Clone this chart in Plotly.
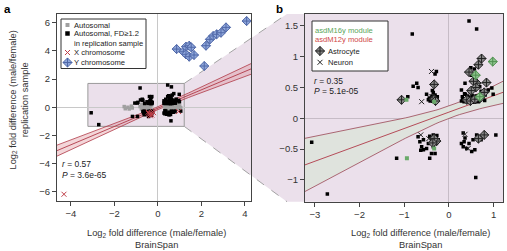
import numpy as np
import plotly.graph_objects as go

W, H = 507, 251

# ---------------- data ----------------
# Panel a: Y chromosome genes
ychr_x = [0.86, 1.17, 1.29, 1.44, 1.53, 1.29, 1.44, 1.66, 2.13, 2.21, 2.39, 2.54, 2.70, 2.90, 3.13, 4.08]
ychr_y = [4.13, 3.94, 4.30, 4.37, 4.26, 3.76, 3.59, 3.71, 2.93, 4.37, 4.82, 5.06, 5.18, 5.29, 5.67, 6.12]
# Panel a: X chromosome genes
xchr_x = [-4.32, -0.45, -0.38, -0.30, -0.35, -0.25, -0.42, -0.28, -0.20, 0.95]
xchr_y = [-6.17, -0.35, -0.50, -0.42, -0.60, -0.30, -0.45, -0.55, -0.38, -0.30]
# Panel a: autosomal genes (not FD>=1.2 in replication)
auto_x = [-0.82, -0.76, -0.71, -0.66, -0.62, -0.58, -0.55, -0.51, -0.48, -0.45, -0.42, -0.39, -0.36, -0.33,
          -0.30, -0.28, -0.68, -0.74, -0.52, -0.35, -1.55, -1.50, -1.38, -1.32, -1.22, -1.18,
          0.30, 0.34, 0.38, 0.42, 0.46, 0.50, 0.54, 0.58, 0.62, 0.66, 0.70, 0.74, 0.78, 0.82, 0.86,
          0.90, 0.95, 1.00, 1.05, 0.32, 0.48, 0.64, 0.80, 0.92]
auto_y = [0.05, -0.12, 0.15, -0.05, 0.20, -0.18, 0.08, -0.22, 0.12, -0.08, 0.22, 0.00, -0.15, 0.10,
          -0.22, 0.18, -0.24, 0.22, 0.00, -0.25, 0.05, -0.10, 0.00, -0.12, 0.08, -0.05,
          0.05, -0.15, 0.20, -0.05, 0.12, -0.22, 0.02, 0.18, -0.12, 0.08, -0.20, 0.15, -0.05, 0.22, -0.15,
          0.05, -0.10, 0.10, -0.02, 0.24, -0.25, 0.25, -0.24, 0.20]
# Autosomal genes with FD>=1.2 in replication sample (other, no cell-type annotation)
fd_x = [-0.82, 0.45, 0.62, -3.07, -2.72, -1.17, 1.05, 0.60,
        -0.80, -0.72, -0.69, -0.50, -0.92, -0.28, -0.31, -0.40, -0.36, -0.33, -0.30, -0.27, -0.38,
        -0.31, -0.35, -0.29, -0.44, -0.26, -0.42, -0.46, -0.37,
        -0.69, -0.65, -0.57, -0.61, -0.57, -0.50, -0.43, -0.39, -0.35, -0.31, -0.39, -0.28, -0.35,
        -0.31, -0.24, -0.43, -0.46, -0.63, -0.27, -0.33,
        0.28, 0.36, 0.51, 0.57, 0.49, 0.58, 0.69, 0.96, 0.99, 0.37, 0.47, 0.56, 0.72, 0.81, 0.88,
        0.28, 0.31, 0.34, 0.37, 0.40, 0.43, 0.46, 0.50, 0.53, 0.56, 0.60, 0.63, 0.66, 0.70, 0.30,
        0.42, 0.52, 0.62, 0.75, 0.80, 0.35, 0.48, 0.58,
        0.32, 0.36, 0.28, 0.32, 0.45, 0.51, 0.58, 0.54, 0.62, 0.72, 0.74, 0.40, 0.34, 0.69]
fd_y = [1.37, 1.58, 1.45, -0.39, -1.23, -0.65, -0.27, -0.96,
        0.52, 0.57, 0.50, 0.39, 0.35, 0.76, 0.72, 0.30, 0.28, 0.33, 0.29, 0.31, 0.36,
        0.38, 0.42, 0.27, 0.33, 0.35, 0.28, 0.30, 0.45,
        -0.30, -0.38, -0.35, -0.46, -0.51, -0.49, -0.65, -0.57, -0.27, -0.32, -0.38, -0.41, -0.46,
        -0.57, -0.35, -0.29, -0.41, -0.52, -0.28, -0.37,
        0.46, 0.57, 0.70, 0.80, 0.82, 0.62, 0.51, 0.49, 0.39, 0.39, 0.43, 0.47, 0.44, 0.38, 0.46,
        0.28, 0.31, 0.27, 0.30, 0.33, 0.28, 0.31, 0.27, 0.30, 0.34, 0.28, 0.31, 0.27, 0.30, 0.35,
        0.36, 0.37, 0.36, 0.33, 0.29, 0.40, 0.34, 0.26,
        -0.24, -0.32, -0.41, -0.46, -0.41, -0.54, -0.51, -0.35, -0.27, -0.35, -0.30, -0.49, -0.38, -0.32]
# Astrocyte markers
astro_x = [-1.06, -0.33, -0.33, -0.30, 0.73, 0.66, 0.45, 0.62, 0.84, 0.79, 0.55, 0.60, 0.50, 0.40,
           0.70, 0.48, 0.58, -0.28, -0.33, -0.36, 0.79, 0.66]
astro_y = [0.30, 0.55, 0.31, 0.28, 0.97, 0.87, 0.75, 0.57, 0.58, 0.42, 0.60, 0.50, 0.45, 0.30,
           0.33, 0.28, 0.31, -0.37, -0.33, -0.40, -0.27, -0.33]
# asdM16 module astrocyte markers / other asdM16 genes
m16astro_x = [0.98, 0.60, 0.69]
m16astro_y = [0.92, 0.70, 0.35]
m16_x = [-0.95, -0.94, -0.33, -0.33]
m16_y = [0.30, -0.65, -0.49, 0.27]
# Neuron markers
neuron_x = [-0.39, -0.61, -0.39, -0.63, -0.45, 0.36, 0.43]
neuron_y = [0.76, 0.27, 0.35, -0.27, -0.33, -0.26, -0.49]

# regression fits (slope, intercept, CI shape)
fit_a = dict(slope=0.65, icpt=-0.06, a=0.010, c=0.0069, xm=-0.10)
fit_b = dict(slope=0.266, icpt=0.10, a=0.010, c=0.0165, xm=0.05)

stat_a = ["<i>r</i> = 0.57", "<i>P</i> = 3.6e-65"]
stat_b = ["<i>r</i> = 0.35", "<i>P</i> = 5.1e-05"]

ticks_ax = [-4, -2, 0, 2, 4]
ticks_ay = [-6, -4, -2, 0, 2, 4, 6]
ticks_bx = [-3, -2, -1, 0, 1]
ticks_by = [-1, -0.5, 0, 0.5, 1, 1.5]

# ---------------- layout geometry ----------------
XA_RNG = [-4.64, 4.28]; YA_RNG = [-6.65, 6.62]
XB_RNG = [-3.22, 1.21]; YB_RNG = [-1.354, 1.693]
XA_DOM = [57 / W, 251 / W]; YA_DOM = [1 - 201 / H, 1 - 14 / H]
XB_DOM = [305 / W, 503 / W]; YB_DOM = [1 - 201.7 / H, 1 - 14 / H]


def px(x):
    return x / W


def py(y):
    return 1 - y / H


def a2p(x, y):
    fx = XA_DOM[0] + (x - XA_RNG[0]) / (XA_RNG[1] - XA_RNG[0]) * (XA_DOM[1] - XA_DOM[0])
    fy = YA_DOM[0] + (y - YA_RNG[0]) / (YA_RNG[1] - YA_RNG[0]) * (YA_DOM[1] - YA_DOM[0])
    return fx, fy


FONT = "Liberation Sans, Arial, Helvetica, sans-serif"
PINK = "#ebe0eb"
LINE_RED = "#b03a48"

fig = go.Figure()


def band(fit, rng, xa, ya, fillcol, edgecol):
    xs = np.linspace(rng[0], rng[1], 60)
    yc = fit["slope"] * xs + fit["icpt"]
    hw = np.sqrt(fit["a"] + fit["c"] * (xs - fit["xm"]) ** 2)
    fig.add_trace(go.Scatter(x=xs, y=yc + hw, mode="lines", line=dict(color=edgecol, width=0.8),
                             xaxis=xa, yaxis=ya, showlegend=False, hoverinfo="skip"))
    fig.add_trace(go.Scatter(x=xs, y=yc - hw, mode="lines", line=dict(color=edgecol, width=0.8),
                             fill="tonexty", fillcolor=fillcol,
                             xaxis=xa, yaxis=ya, showlegend=False, hoverinfo="skip"))
    fig.add_trace(go.Scatter(x=xs, y=yc, mode="lines", line=dict(color=LINE_RED, width=0.9),
                             xaxis=xa, yaxis=ya, showlegend=False, hoverinfo="skip"))


# ---- panel a ----
band(fit_a, XA_RNG, "x", "y", "rgba(215,120,130,0.30)", LINE_RED)
fig.add_trace(go.Scatter(x=auto_x, y=auto_y, mode="markers", xaxis="x", yaxis="y",
                         marker=dict(symbol="square", size=3.5, color="#a0a0a0"), showlegend=False))
all_fd_x = fd_x + astro_x + m16astro_x + m16_x + neuron_x
all_fd_y = fd_y + astro_y + m16astro_y + m16_y + neuron_y
fig.add_trace(go.Scatter(x=all_fd_x, y=all_fd_y, mode="markers", xaxis="x", yaxis="y",
                         marker=dict(symbol="square", size=3.5, color="black"), showlegend=False))
fig.add_trace(go.Scatter(x=xchr_x, y=xchr_y, mode="markers", xaxis="x", yaxis="y",
                         marker=dict(symbol="x-thin-open", size=5, color="#c0404a",
                                     line=dict(width=1, color="#c0404a")), showlegend=False))
fig.add_trace(go.Scatter(x=ychr_x, y=ychr_y, mode="markers", xaxis="x", yaxis="y",
                         marker=dict(symbol="diamond-cross", size=7, color="#8ea6da",
                                     line=dict(width=1, color="#5068a8")), showlegend=False))

# ---- panel b ----
band(fit_b, XB_RNG, "x2", "y2", "#dfe3dd", "#9a4656")
fig.add_trace(go.Scatter(x=fd_x, y=fd_y, mode="markers", xaxis="x2", yaxis="y2",
                         marker=dict(symbol="square", size=3.5, color="black"), showlegend=False))
fig.add_trace(go.Scatter(x=astro_x, y=astro_y, mode="markers", xaxis="x2", yaxis="y2",
                         marker=dict(symbol="diamond-cross", size=7, color="#8a8a8a",
                                     line=dict(width=1, color="#222")), showlegend=False))
fig.add_trace(go.Scatter(x=m16astro_x, y=m16astro_y, mode="markers", xaxis="x2", yaxis="y2",
                         marker=dict(symbol="diamond-cross", size=7, color="#8fc48f",
                                     line=dict(width=1, color="#4f8f4f")), showlegend=False))
fig.add_trace(go.Scatter(x=m16_x, y=m16_y, mode="markers", xaxis="x2", yaxis="y2",
                         marker=dict(symbol="square", size=4, color="#6aaa6a"), showlegend=False))
fig.add_trace(go.Scatter(x=neuron_x, y=neuron_y, mode="markers", xaxis="x2", yaxis="y2",
                         marker=dict(symbol="x-thin-open", size=5, color="#222",
                                     line=dict(width=1, color="#222")), showlegend=False))

# ---- legend swatches on a pixel overlay ----
fig.add_trace(go.Scatter(x=[67.5], y=[25], mode="markers", xaxis="x3", yaxis="y3", hoverinfo="skip",
                         marker=dict(symbol="square", size=4, color="#a0a0a0"), showlegend=False))
fig.add_trace(go.Scatter(x=[67.5], y=[33.5], mode="markers", xaxis="x3", yaxis="y3", hoverinfo="skip",
                         marker=dict(symbol="square", size=4.5, color="black"), showlegend=False))
fig.add_trace(go.Scatter(x=[67.5], y=[52.5], mode="markers", xaxis="x3", yaxis="y3", hoverinfo="skip",
                         marker=dict(symbol="x-thin-open", size=5, color="#c0404a",
                                     line=dict(width=1, color="#c0404a")), showlegend=False))
fig.add_trace(go.Scatter(x=[67.5], y=[62.5], mode="markers", xaxis="x3", yaxis="y3", hoverinfo="skip",
                         marker=dict(symbol="diamond-cross", size=7, color="#8ea6da",
                                     line=dict(width=1, color="#5068a8")), showlegend=False))
fig.add_trace(go.Scatter(x=[320], y=[51], mode="markers", xaxis="x3", yaxis="y3", hoverinfo="skip",
                         marker=dict(symbol="diamond-cross", size=7, color="#8a8a8a",
                                     line=dict(width=1, color="#222")), showlegend=False))
fig.add_trace(go.Scatter(x=[320], y=[62.3], mode="markers", xaxis="x3", yaxis="y3", hoverinfo="skip",
                         marker=dict(symbol="x-thin-open", size=5, color="#222",
                                     line=dict(width=1, color="#222")), showlegend=False))

# ---- shapes ----
bx0, by0 = a2p(XB_RNG[0], YB_RNG[0])
bx1, by1 = a2p(XB_RNG[1], YB_RNG[1])
poly = [(bx0, by1), (bx1, by1), (px(287), py(14)), (px(503), py(14)), (px(503), py(201.7)),
        (px(287), py(201.7)), (bx1, by0), (bx0, by0)]
path = "M " + " L ".join(f"{x:.5f},{y:.5f}" for x, y in poly) + " Z"
shapes = [
    dict(type="path", path=path, xref="paper", yref="paper", fillcolor=PINK,
         line=dict(width=0), layer="below"),
    dict(type="rect", xref="paper", yref="paper", x0=bx0, y0=by0, x1=bx1, y1=by1,
         line=dict(color="#9a9a9a", width=1), layer="below"),
    dict(type="line", xref="paper", yref="paper", x0=bx1, y0=by1, x1=px(287), y1=py(14),
         line=dict(color="#9a9a9a", width=0.9, dash="dash"), layer="below"),
    dict(type="line", xref="paper", yref="paper", x0=bx1, y0=by0, x1=px(287), y1=py(201.7),
         line=dict(color="#9a9a9a", width=0.9, dash="dash"), layer="below"),
    dict(type="rect", xref="paper", yref="paper", x0=px(61), y0=py(68.5), x1=px(146), y1=py(19),
         fillcolor="white", line=dict(color="#333", width=1), layer="below"),
    dict(type="rect", xref="paper", yref="paper", x0=px(312), y0=py(71), x1=px(388), y1=py(21),
         fillcolor="white", line=dict(color="#333", width=1), layer="below"),
]

# ---- annotations ----
ann = []


def text(x, y, s, size=7.6, color="#222", xanchor="left", **kw):
    ann.append(dict(x=px(x), y=py(y), xref="paper", yref="paper", text=s, showarrow=False,
                    xanchor=xanchor, yanchor="middle", font=dict(size=size, color=color, family=FONT),
                    borderpad=0, **kw))


text(73, 25, "Autosomal")
text(73, 33.5, "Autosomal, FD≥1.2")
text(73, 43.5, "in replication sample")
text(73, 52.5, "X chromosome")
text(73, 62.5, "Y chromosome")
text(313.5, 30, "asdM16y module", color="#5aa55a")
text(313.5, 39.5, "asdM12y module", color="#d04848")
text(326.5, 51, "Astrocyte")
text(326.5, 62.3, "Neuron")
text(61, 163.5, stat_a[0], size=8.5)
text(61, 174.5, stat_a[1], size=8.5)
text(312.5, 80.7, stat_b[0], size=8.5)
text(312.5, 90.5, stat_b[1], size=8.5)
text(7, 9.5, "<b>a</b>", size=11.5, color="black", xanchor="center")
text(279, 9.5, "<b>b</b>", size=11.5, color="black", xanchor="center")
xtitle = "Log<sub>2</sub> fold difference (male/female)<br>BrainSpan"
text(156, 239, xtitle, size=9.3, color="#333", xanchor="center")
text(420, 239, xtitle, size=9.3, color="#333", xanchor="center")
text(18.5, 100, "Log<sub>2</sub> fold difference (male/female)<br>replication sample",
     size=9.3, color="#333", xanchor="center", textangle=-90)

axis_common = dict(ticks="outside", ticklen=4, tickwidth=1, tickcolor="#444", showline=True, mirror=True,
                   linecolor="#444", linewidth=1, showgrid=False, zeroline=True, zerolinewidth=1,
                   tickfont=dict(size=9.5, color="#333", family=FONT), fixedrange=True)

fig.update_layout(
    width=W, height=H, margin=dict(l=0, r=0, t=0, b=0),
    paper_bgcolor="white", plot_bgcolor="rgba(0,0,0,0)",
    font=dict(family=FONT),
    xaxis=dict(domain=XA_DOM, range=XA_RNG, tickvals=ticks_ax, anchor="y", zerolinecolor="#c8c8c8",
               **axis_common),
    yaxis=dict(domain=YA_DOM, range=YA_RNG, tickvals=ticks_ay, anchor="x", zerolinecolor="#c8c8c8",
               **axis_common),
    xaxis2=dict(domain=XB_DOM, range=XB_RNG, tickvals=ticks_bx, anchor="y2", zerolinecolor="#c6bcc6",
                **axis_common),
    yaxis2=dict(domain=YB_DOM, range=YB_RNG, tickvals=ticks_by, anchor="x2", zerolinecolor="#c6bcc6",
                **axis_common),
    xaxis3=dict(domain=[0, 1], range=[0, W], visible=False, anchor="y3", fixedrange=True),
    yaxis3=dict(domain=[0, 1], range=[H, 0], visible=False, anchor="x3", fixedrange=True),
    shapes=shapes, annotations=ann, showlegend=False,
)

fig.write_html("out.html")
